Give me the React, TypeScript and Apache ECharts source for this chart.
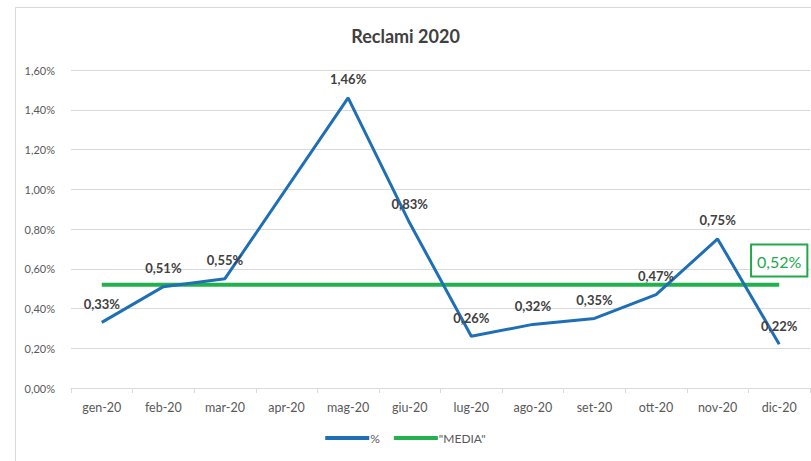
import React, { useEffect, useRef } from "react";
import * as echarts from "echarts";

const titleText = "Reclami 2020";
const categories = ["gen-20", "feb-20", "mar-20", "apr-20", "mag-20", "giu-20", "lug-20", "ago-20", "set-20", "ott-20", "nov-20", "dic-20"];
const percentValues: (number | null)[] = [0.33, 0.51, 0.55, null, 1.46, 0.83, 0.26, 0.32, 0.35, 0.47, 0.75, 0.22];
const mediaValue = 0.52;
const mediaValues = categories.map(() => mediaValue);
const seriesNames = ["%", "\"MEDIA\""];

const fmt = (v: number) => v.toFixed(2).replace(".", ",") + "%";

export default function App() {
  const ref = useRef<HTMLDivElement>(null);
  useEffect(() => {
    if (!ref.current) return;
    const chart = echarts.init(ref.current, null, { renderer: "svg" });
    const font = "Lato, 'Open Sans', sans-serif";
    chart.setOption({
      animation: false,
      backgroundColor: "#ffffff",
      textStyle: { fontFamily: font },
      title: {
        text: titleText,
        left: "center",
        top: 22,
        textStyle: { fontFamily: font, fontSize: 18, fontWeight: "bold", color: "#404040" },
      },
      graphic: [
        {
          type: "rect",
          left: 13,
          top: 5,
          shape: { width: 810, height: 470 },
          style: { fill: "none", stroke: "#d9d9d9", lineWidth: 1 },
          silent: true,
        },
      ],
      legend: {
        bottom: 12,
        left: "center",
        itemWidth: 44,
        itemHeight: 4,
        itemGap: 14,
        icon: "rect",
        textStyle: { fontFamily: font, fontSize: 12, color: "#595959", padding: [0, 0, 0, -4] },
        data: seriesNames,
      },
      grid: { left: 71, right: 1, top: 70, bottom: 73, containLabel: false },
      xAxis: {
        type: "category",
        data: categories,
        boundaryGap: true,
        axisLine: { lineStyle: { color: "#d9d9d9" } },
        axisTick: { show: true, length: 5, lineStyle: { color: "#d9d9d9" } },
        axisLabel: { color: "#595959", fontSize: 12.5, margin: 13, fontFamily: font },
      },
      yAxis: {
        type: "value",
        min: 0,
        max: 1.6,
        interval: 0.2,
        axisLine: { show: false },
        axisTick: { show: false },
        splitLine: { lineStyle: { color: "#d9d9d9" } },
        axisLabel: { color: "#595959", fontSize: 11, margin: 16, fontFamily: font, formatter: (v: number) => fmt(v) },
      },
      series: [
        {
          name: seriesNames[0],
          type: "line",
          data: percentValues,
          connectNulls: true,
          showSymbol: true,
          symbol: "circle",
          symbolSize: 0.1,
          z: 3,
          lineStyle: { color: "#1f6fb6", width: 3 },
          itemStyle: { color: "#1f6fb6" },
          label: {
            show: true,
            position: "top",
            distance: 12,
            fontFamily: font,
            fontSize: 13,
            fontWeight: "bold",
            color: "#404040",
            formatter: (p: any) => fmt(p.value),
          },
        },
        {
          name: seriesNames[1],
          type: "line",
          data: mediaValues.map((v, i) =>
            i === mediaValues.length - 1
              ? {
                  value: v,
                  label: {
                    show: true,
                    position: "top",
                    distance: 9,
                    fontFamily: font,
                    fontSize: 16,
                    color: "#21a84a",
                    borderColor: "#21a84a",
                    borderWidth: 2,
                    padding: [8, 5, 6, 5],
                    backgroundColor: "#ffffff",
                    formatter: (p: any) => fmt(p.value),
                  },
                }
              : v
          ),
          showSymbol: true,
          symbol: "circle",
          symbolSize: 0.1,
          z: 2,
          lineStyle: { color: "#22b14c", width: 4 },
          itemStyle: { color: "#22b14c" },
          label: { show: false },
        },
      ],
    });
    return () => chart.dispose();
  }, []);
  return <div ref={ref} style={{ position: "fixed", left: 0, top: 0, width: 811, height: 461 }} />;
}
